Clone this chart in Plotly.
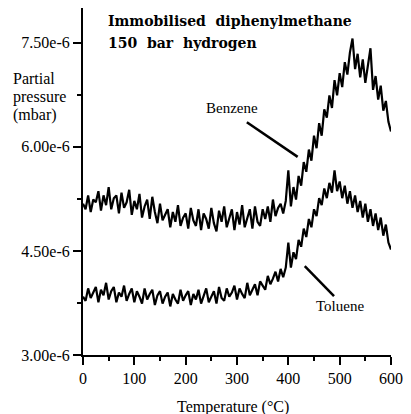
import plotly.graph_objects as go

# Temperature grid (°C), sampled every 5 °C
temperature = list(range(0, 605, 5))

# Partial pressures, in units of 1e-6 mbar
benzene_e6 = [
    5.18, 5.10, 5.30, 5.06, 5.24, 5.20, 5.36, 5.08, 5.30, 5.16,
    5.42, 5.10, 5.26, 5.30, 5.04, 5.34, 5.12, 5.20, 5.38, 5.02,
    5.22, 5.10, 5.32, 4.98, 5.14, 5.24, 4.96, 5.28, 5.06, 4.90,
    5.18, 4.94, 5.02, 5.10, 4.84, 5.06, 4.92, 5.16, 4.86, 4.98,
    5.04, 4.82, 5.12, 4.94, 4.86, 5.10, 4.80, 5.04, 4.96, 4.82,
    5.12, 4.90, 4.78, 5.08, 4.92, 5.14, 4.84, 4.98, 5.10, 4.80,
    5.06, 4.88, 5.16, 4.84, 4.96, 5.10, 4.82, 5.14, 4.92, 4.86,
    5.10, 4.96, 5.14, 4.92, 5.24, 5.00, 5.12, 5.18, 5.04, 5.22,
    5.66, 5.14, 5.42, 5.24, 5.58, 5.44, 5.78, 5.64, 5.96, 5.80,
    6.16, 5.98, 6.34, 6.16, 6.54, 6.42, 6.74, 6.56, 6.96, 6.74,
    7.06, 6.86, 7.22, 7.04, 7.36, 7.56, 7.12, 7.34, 7.00, 7.26,
    6.92, 7.18, 7.42, 6.82, 7.02, 6.68, 6.88, 6.52, 6.66, 6.36,
    6.22,
]

toluene_e6 = [
    3.84, 3.78, 3.96, 3.82, 3.90, 3.98, 3.76, 3.94, 3.86, 4.04,
    3.80, 3.92, 3.98, 3.76, 3.90, 3.84, 4.00, 3.78, 3.88, 3.96,
    3.76, 3.92, 3.84, 3.74, 3.96, 3.80, 3.88, 3.94, 3.72, 3.86,
    3.92, 3.74, 3.84, 3.90, 3.70, 3.88, 3.80, 3.74, 3.94, 3.78,
    3.86, 3.92, 3.72, 3.88, 3.80, 3.94, 3.74, 3.86, 3.96, 3.76,
    3.84, 3.92, 3.74, 3.98, 3.82, 3.78, 3.96, 3.84, 3.90, 4.00,
    3.80, 3.96, 3.88, 3.82, 4.04, 3.86, 3.94, 4.02, 3.86, 4.06,
    4.00, 3.94, 4.14, 4.02, 4.10, 4.20, 4.06, 4.24, 4.12, 4.26,
    4.62, 4.26, 4.48, 4.38, 4.66, 4.56, 4.82, 4.70, 4.96, 4.84,
    5.10, 5.00, 5.26, 5.16, 5.40, 5.26, 5.48, 5.34, 5.66, 5.36,
    5.50, 5.26, 5.44, 5.18, 5.36, 5.12, 5.30, 5.06, 5.22, 4.98,
    5.18, 4.92, 5.10, 4.86, 5.04, 4.80, 4.98, 4.72, 4.88, 4.62,
    4.52,
]

# Axis tick labels
y_tick_values_e6 = [3.00, 4.50, 6.00, 7.50]
y_tick_labels = ["3.00e-6", "4.50e-6", "6.00e-6", "7.50e-6"]
x_tick_values = [0, 100, 200, 300, 400, 500, 600]
x_tick_labels = ["0", "100", "200", "300", "400", "500", "600"]

benzene = [v * 1e-6 for v in benzene_e6]
toluene = [v * 1e-6 for v in toluene_e6]
y_tick_values = [v * 1e-6 for v in y_tick_values_e6]

serif = "Liberation Serif"
bold_serif = "DejaVu Serif"

fig = go.Figure()
fig.add_trace(go.Scatter(x=temperature, y=benzene, mode="lines",
                         line=dict(color="black", width=2.2), name="Benzene"))
fig.add_trace(go.Scatter(x=temperature, y=toluene, mode="lines",
                         line=dict(color="black", width=2.2), name="Toluene"))

fig.update_layout(
    width=411, height=414,
    margin=dict(l=83, r=14, t=8, b=59),
    paper_bgcolor="white", plot_bgcolor="white",
    showlegend=False,
    font=dict(family=serif, size=16, color="black"),
)

fig.update_xaxes(
    range=[0, 600], tickmode="array", tickvals=x_tick_values, ticktext=x_tick_labels,
    showgrid=False, zeroline=False,
    showline=True, linecolor="black", linewidth=2,
    ticks="outside", ticklen=8, tickwidth=2, tickcolor="black",
    tickfont=dict(family=serif, size=16, color="black"),
    minor=dict(dtick=50, ticks="outside", ticklen=4, tickwidth=2, tickcolor="black"),
)
fig.update_yaxes(
    range=[3e-6, 8.0e-6], tickmode="array", tickvals=y_tick_values, ticktext=y_tick_labels,
    showgrid=False, zeroline=False,
    showline=True, linecolor="black", linewidth=2,
    ticks="outside", ticklen=8, tickwidth=2, tickcolor="black",
    tickfont=dict(family=serif, size=16, color="black"),
    minor=dict(tick0=3e-6, dtick=0.75e-6, ticks="outside", ticklen=4, tickwidth=2,
               tickcolor="black"),
)

anns = [
    dict(text="<b>Immobilised\u00a0\u00a0diphenylmethane</b>", x=0.0732, y=0.9625,
         xanchor="left", yanchor="middle", font=dict(family=bold_serif, size=14)),
    dict(text="<b>150\u00a0\u00a0bar\u00a0\u00a0hydrogen</b>", x=0.0732, y=0.899,
         xanchor="left", yanchor="middle", font=dict(family=bold_serif, size=14)),
    dict(text="Partial", x=-0.2325, y=0.798, xanchor="left", yanchor="middle",
         font=dict(family=serif, size=16)),
    dict(text="pressure", x=-0.2325, y=0.744, xanchor="left", yanchor="middle",
         font=dict(family=serif, size=16)),
    dict(text="(mbar)", x=-0.2325, y=0.692, xanchor="left", yanchor="middle",
         font=dict(family=serif, size=16)),
    dict(text="Temperature (°C)", x=0.487, y=-0.150, xanchor="center", yanchor="middle",
         font=dict(family=serif, size=16)),
    dict(text="Benzene", x=0.484, y=0.712, xanchor="center", yanchor="middle",
         font=dict(family=serif, size=15)),
    dict(text="Toluene", x=0.834, y=0.141, xanchor="center", yanchor="middle",
         font=dict(family=serif, size=15)),
]
for a in anns:
    fig.add_annotation(xref="paper", yref="paper", showarrow=False, **a)

fig.add_shape(type="line", xref="paper", yref="paper",
              x0=0.532, y0=0.671, x1=0.697, y1=0.571,
              line=dict(color="black", width=2.5))
fig.add_shape(type="line", xref="paper", yref="paper",
              x0=0.720, y0=0.256, x1=0.815, y1=0.170,
              line=dict(color="black", width=2.5))

fig.write_html("out.html")
